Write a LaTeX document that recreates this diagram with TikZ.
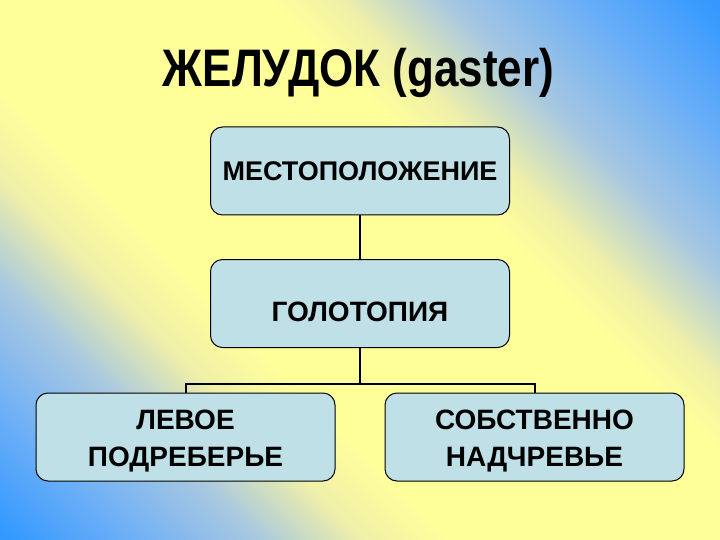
\documentclass[tikz,border=0pt]{standalone}
\usepackage{fontspec}
\setmainfont{Liberation Sans}
\usetikzlibrary{positioning}

\definecolor{bgblue}{RGB}{51,153,255}
\definecolor{bgmid}{RGB}{110,176,246}
\definecolor{bggrey}{RGB}{168,200,224}
\definecolor{bgyellow}{RGB}{255,255,153}
\definecolor{bgpale}{RGB}{240,240,168}
\definecolor{boxfill}{RGB}{190,224,230}

\pgfdeclarehorizontalshading{slidebg}{100bp}{%
  color(0bp)=(bgblue); color(15bp)=(bgblue); color(22bp)=(bgmid); color(29bp)=(bggrey);
  color(35bp)=(bgpale); color(40bp)=(bgyellow); color(60bp)=(bgyellow);
  color(64bp)=(bgpale); color(70bp)=(bggrey); color(77bp)=(bgmid);
  color(85bp)=(bgblue); color(100bp)=(bgblue)}

\tikzset{
  topic/.style = {rectangle, rounded corners = 12pt, draw = black, line width = 1pt,
    fill = boxfill, minimum width = 299pt, minimum height = 88pt, align = center,
    font = \fontsize{28}{37}\selectfont\bfseries},
  link/.style = {line width = 2pt}
}

\begin{document}
\begin{tikzpicture}[x = 1pt, y = -1pt]
  \shade[shading = slidebg, shading angle = 45] (0,0) rectangle (720,540);
  \useasboundingbox (0,0) rectangle (720,540);

  \node (title) at (358.5,87) [anchor = base, inner sep = 0pt,
    font = \fontsize{44}{50}\selectfont\bfseries] {\scalebox{1}[1.2]{ЖЕЛУДОК (gaster)}};

  \node (loc)   at (360,171)   [topic, font = \fontsize{27}{34}\selectfont\bfseries] {МЕСТОПОЛОЖЕНИЕ};
  \node (golo)  at (360,303.5) [topic, text height = 36pt] {ГОЛОТОПИЯ};
  \node (left)  at (185.5,437) [topic, text height = 65pt] {ЛЕВОЕ\\ПОДРЕБЕРЬЕ};
  \node (right) at (534.5,437) [topic, text height = 65pt] {СОБСТВЕННО\\НАДЧРЕВЬЕ};

  \coordinate (bus) at (360,384);
  \draw [link] (loc) -- (golo);
  \draw [link] (golo) -- (bus) -| (left);
  \draw [link] (bus) -| (right);
\end{tikzpicture}
\end{document}
